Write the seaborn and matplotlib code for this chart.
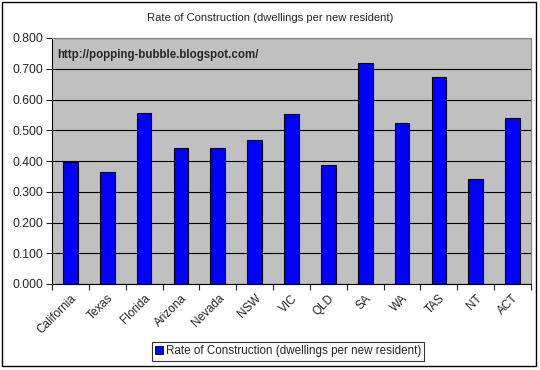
import pandas as pd
import numpy as np
import matplotlib.pyplot as plt
import seaborn as sns
from matplotlib.patches import Rectangle, Patch

# 数据
regions = ['California', 'Texas', 'Florida', 'Arizona', 'Nevada', 'NSW', 'VIC',
           'QLD', 'SA', 'WA', 'TAS', 'NT', 'ACT']
rates = [0.397, 0.364, 0.556, 0.442, 0.442, 0.468, 0.553,
         0.387, 0.719, 0.524, 0.673, 0.341, 0.540]
y_ticks = [0.0, 0.1, 0.2, 0.3, 0.4, 0.5, 0.6, 0.7, 0.8]
series_name = 'Rate of Construction (dwellings per new resident)'

df = pd.DataFrame({'region': regions, 'rate': rates})

sns.set_style("white")
plt.rcParams['font.family'] = ['Liberation Sans', 'DejaVu Sans']

fig = plt.figure(figsize=(5.4, 3.7), dpi=100)
ax = fig.add_axes([52 / 540, 1 - 284 / 370, 479 / 540, 246 / 370])
ax.set_facecolor('#C0C0C0')

sns.barplot(data=df, x='region', y='rate', color='#0000FF', saturation=1,
            width=0.4, edgecolor='black', linewidth=0.8, ax=ax, zorder=3)

ax.set_ylim(0, 0.8)
ax.set_xlim(-0.5, len(regions) - 0.5)
ax.set_yticks(y_ticks)
ax.set_yticklabels([f'{v:.3f}' for v in y_ticks], fontsize=8.7)
ax.yaxis.grid(True, color='black', linewidth=0.8, zorder=1)
ax.set_axisbelow(True)
ax.tick_params(axis='y', direction='out', length=4, width=0.8, left=True, pad=2)

# x 轴刻度放在类别之间
ax.set_xticks(np.arange(len(regions)))
ax.set_xticklabels(regions, rotation=45, ha='right', rotation_mode='anchor', fontsize=8.5)
ax.set_xticks(np.arange(len(regions) + 1) - 0.5, minor=True)
ax.tick_params(axis='x', which='major', length=0, pad=6)
ax.tick_params(axis='x', which='minor', direction='out', length=4, width=0.8, bottom=True)
ax.set_xlabel('')
ax.set_ylabel('')

for side in ['top', 'right']:
    ax.spines[side].set_color('#808080')
    ax.spines[side].set_linewidth(0.8)
for side in ['left', 'bottom']:
    ax.spines[side].set_color('black')
    ax.spines[side].set_linewidth(0.8)

ax.text(0.012, 0.955, 'http://popping-bubble.blogspot.com/', transform=ax.transAxes,
        fontsize=8.3, fontweight='bold', va='top', ha='left')

fig.text(0.5, 1 - 18 / 370, series_name, ha='center', va='center', fontsize=8.1)

leg = fig.legend(handles=[Patch(facecolor='#0000FF', edgecolor='black', linewidth=0.6)],
                 labels=[series_name], loc='center', bbox_to_anchor=(288 / 540, 1 - 351 / 370),
                 fontsize=8.4, frameon=True, fancybox=False, handlelength=0.7,
                 handleheight=0.7, handletextpad=0.2, borderpad=0.3, borderaxespad=0)
leg.get_frame().set_edgecolor('black')
leg.get_frame().set_linewidth(0.8)

# 外边框
fig.patches.append(Rectangle((2 / 540, 4 / 370), 534 / 540, 364 / 370, transform=fig.transFigure,
                             fill=False, edgecolor='black', linewidth=1))

fig.savefig('out.png', dpi=100)
